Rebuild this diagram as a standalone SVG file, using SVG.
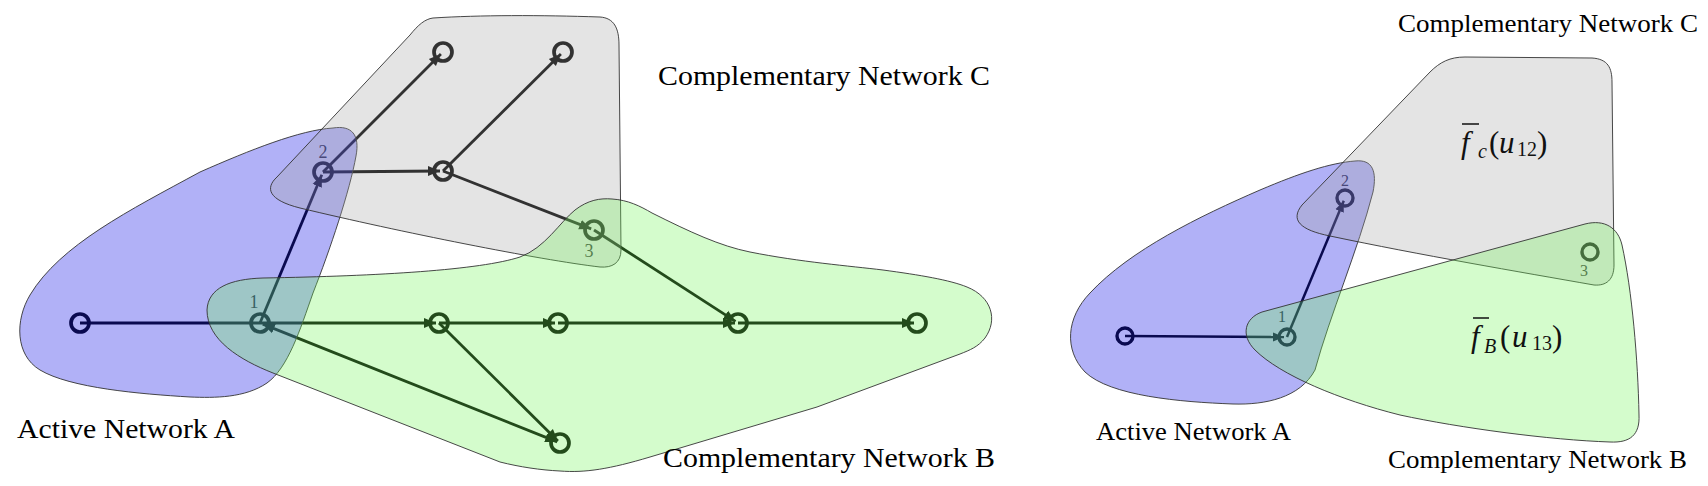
<svg xmlns="http://www.w3.org/2000/svg" width="1708" height="486" viewBox="0 0 1708 486">
<defs>
<marker id="ah" markerUnits="userSpaceOnUse" viewBox="0 -6 13 12" refX="12" refY="0" markerWidth="13" markerHeight="12" orient="auto-start-reverse"><path d="M0,-5 L12,0 L0,5 Z" fill="#000"/></marker>
<marker id="ahs" markerUnits="userSpaceOnUse" viewBox="0 -6 13 12" refX="11" refY="0" markerWidth="13" markerHeight="12" orient="auto-start-reverse"><path d="M0,-4.5 L11,0 L0,4.5 Z" fill="#000"/></marker>
</defs>
<style>
.e{stroke:#000;stroke-width:2.8;fill:none}
.e2{stroke:#000;stroke-width:2.5;fill:none}
.n{fill:none;stroke:#000;stroke-width:3.7}
.n2{fill:none;stroke:#000;stroke-width:3.4}
.num{font-family:"Liberation Serif","Times New Roman",serif;font-size:18px;fill:#222;text-anchor:middle}
.num2{font-family:"Liberation Serif","Times New Roman",serif;font-size:16px;fill:#222;text-anchor:middle}
.blue{fill:rgb(29,29,232);fill-opacity:0.345;stroke:#333;stroke-width:0.9}
.gray{fill:rgb(165,165,165);fill-opacity:0.3;stroke:#333;stroke-width:0.9}
.green{fill:rgb(114,245,88);fill-opacity:0.306;stroke:#333;stroke-width:0.9}
.t{font-family:"Liberation Serif","Times New Roman",serif;fill:#000}
.m{font-family:"Liberation Serif","Times New Roman",serif;fill:#111}
.bar{stroke:#111;stroke-width:1.5}
</style>

<!-- LEFT PANEL -->
<g id="connectors-left">
<path class="e" d="M80,323 L260,323"/>
<path class="e" d="M260,323 L321.8,174.8" marker-end="url(#ah)"/>
<path class="e" d="M323,172 L440.9,54.1" marker-end="url(#ah)"/>
<path class="e" d="M323,172 L440,171" marker-end="url(#ah)"/>
<path class="e" d="M443,171 L560.9,54.1" marker-end="url(#ah)"/>
<path class="e" d="M443,171 L591.2,228.9" marker-end="url(#ah)"/>
<path class="e" d="M594,230 L735.5,321.4" marker-end="url(#ah)"/>
<path class="e" d="M260,323 L436,323" marker-end="url(#ah)"/>
<path class="e" d="M439,323 L555,323" marker-end="url(#ah)"/>
<path class="e" d="M558,323 L735,323" marker-end="url(#ah)"/>
<path class="e" d="M738,323 L914,323" marker-end="url(#ah)"/>
<path class="e" d="M262.8,324.1 L557.2,441.9" marker-start="url(#ah)" marker-end="url(#ah)"/>
<path class="e" d="M439,323 L557.9,440.9" marker-end="url(#ah)"/>
</g>

<g id="L-A0"><circle class="n" cx="80" cy="323" r="9"/></g>
<g id="L-n1"><circle class="n" cx="260" cy="323" r="9"/><text class="num" x="254" y="308">1</text></g>
<g id="L-n2"><circle class="n" cx="323" cy="172" r="9"/><text class="num" x="323" y="158">2</text></g>
<g id="L-Cmid"><circle class="n" cx="443" cy="171" r="9"/></g>
<g id="L-Ctop1"><circle class="n" cx="443" cy="52" r="9"/></g>
<g id="L-Ctop2"><circle class="n" cx="563" cy="52" r="9"/></g>
<g id="L-n3"><circle class="n" cx="594" cy="230" r="9"/><text class="num" x="589" y="257">3</text></g>
<g id="L-B1"><circle class="n" cx="439" cy="323" r="9"/></g>
<g id="L-B2"><circle class="n" cx="558" cy="323" r="9"/></g>
<g id="L-B3"><circle class="n" cx="738" cy="323" r="9"/></g>
<g id="L-B4"><circle class="n" cx="917" cy="323" r="9"/></g>
<g id="L-B5"><circle class="n" cx="560" cy="443" r="9"/></g>

<g id="L-regionA"><path class="blue" d="M333,128 C352,125 360,135 356,156 C350,190 330,250 313,293 C300,330 288,368 267,383 C245,398 215,398 190,397 C140,394 70,388 40,370 C15,355 15,320 30,295 C60,245 130,210 200,172 C250,150 300,130 333,128 Z"/></g>
<g id="L-regionC"><path class="gray" d="M433,18 C480,15 540,15 600,17 C614,18 619,28 619,45 L621,250 C621,263 612,268 600,267 C540,260 400,232 300,208 C268,200 265,188 277,177 L410,35 C418,25 425,19 433,18 Z"/></g>
<g id="L-regionB"><path class="green" d="M207,310 C208,288 230,279 263,278 C380,276 480,270 520,257 C545,248 560,222 575,210 C588,200 600,198 612,199 C628,200 640,206 652,213 C690,232 720,246 750,252 C800,262 850,266 883,270 C920,275 950,280 967,287 C992,297 998,320 985,338 C978,347 970,350 960,354 L817,407 L650,457 C610,469 585,473 560,471 C540,470 520,467 500,462 L273,373 C240,360 207,340 207,310 Z"/></g>

<g id="L-labels">
<text class="t" x="17" y="438" font-size="28" textLength="218" lengthAdjust="spacingAndGlyphs">Active Network A</text>
<text class="t" x="658" y="85" font-size="28" textLength="332" lengthAdjust="spacingAndGlyphs">Complementary Network C</text>
<text class="t" x="663" y="467" font-size="28" textLength="332" lengthAdjust="spacingAndGlyphs">Complementary Network B</text>
</g>

<!-- RIGHT PANEL -->
<g id="connectors-right">
<path class="e2" d="M1125,336 L1284,337" marker-end="url(#ahs)"/>
<path class="e2" d="M1287,337 L1343.8,200.8" marker-end="url(#ahs)"/>
</g>

<g id="R-A0"><circle class="n2" cx="1125" cy="336" r="8"/></g>
<g id="R-n1"><circle class="n2" cx="1287" cy="337" r="8"/><text class="num2" x="1282" y="322">1</text></g>
<g id="R-n2"><circle class="n2" cx="1345" cy="198" r="8"/><text class="num2" x="1345" y="186">2</text></g>
<g id="R-n3"><circle class="n2" cx="1590" cy="252" r="8"/><text class="num2" x="1584" y="276">3</text></g>

<g id="R-regionA"><path class="blue" d="M1355,161 C1373,159 1377,172 1373,192 C1358,250 1330,315 1315,370 C1300,398 1265,405 1233,404 C1180,402 1110,396 1085,372 C1064,350 1066,318 1090,293 C1130,250 1200,216 1260,190 C1300,173 1330,163 1355,161 Z"/></g>
<g id="R-regionC"><path class="gray" d="M1465,57 L1592,58 C1608,59 1612,68 1612,82 L1614,265 C1614,280 1606,286 1594,285 C1520,272 1420,255 1330,236 C1300,230 1290,220 1302,205 L1430,72 C1440,62 1450,57 1465,57 Z"/></g>
<g id="R-regionB"><path class="green" d="M1262,312 L1585,224 C1605,219 1618,228 1622,245 C1632,290 1638,360 1639,415 C1640,435 1630,443 1610,442 C1550,440 1460,428 1400,415 C1340,400 1280,375 1255,350 C1240,335 1245,318 1262,312 Z"/></g>

<g id="R-labels">
<text class="t" x="1398" y="32" font-size="26" textLength="300" lengthAdjust="spacingAndGlyphs">Complementary Network C</text>
<text class="t" x="1096" y="440" font-size="26" textLength="195" lengthAdjust="spacingAndGlyphs">Active Network A</text>
<text class="t" x="1388" y="468" font-size="26" textLength="299" lengthAdjust="spacingAndGlyphs">Complementary Network B</text>
</g>

<g id="R-fc">
<line class="bar" x1="1462" y1="124" x2="1479" y2="124"/>
<text class="m" font-size="31" y="153"><tspan x="1461" font-style="italic">f</tspan><tspan x="1478" y="158" font-size="20" font-style="italic">c</tspan><tspan x="1489" y="153">(</tspan><tspan x="1499" font-style="italic">u</tspan><tspan x="1517" y="156" font-size="20">12</tspan><tspan x="1537" y="153">)</tspan></text>
</g>
<g id="R-fB">
<line class="bar" x1="1473" y1="318" x2="1489" y2="318"/>
<text class="m" font-size="31" y="347"><tspan x="1471" font-style="italic">f</tspan><tspan x="1484" y="353" font-size="20" font-style="italic">B</tspan><tspan x="1500" y="347">(</tspan><tspan x="1512" font-style="italic">u</tspan><tspan x="1532" y="350" font-size="20">13</tspan><tspan x="1552" y="347">)</tspan></text>
</g>
</svg>
